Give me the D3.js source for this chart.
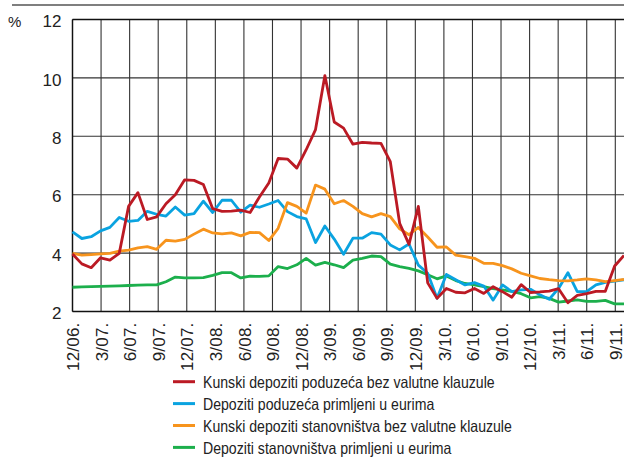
<!DOCTYPE html>
<html>
<head>
<meta charset="utf-8">
<script src="https://cdn.jsdelivr.net/npm/d3@7"></script>
<style>
  body { margin: 0; background: #fff; }
  svg { display: block; }
  text { font-family: "Liberation Sans Narrow", "Arial Narrow", "Liberation Sans", sans-serif; fill: #222; }
</style>
</head>
<body>
<div id="chart"></div>
<script>
// quarter labels on the x axis
var tickLabels = ["12/06.", "3/07.", "6/07.", "9/07.", "12/07.", "3/08.", "6/08.", "9/08.", "12/08.", "3/09.",
  "6/09.", "9/09.", "12/09.", "3/10.", "6/10.", "9/10.", "12/10.", "3/11.", "6/11.", "9/11."];
var yTicks = [2, 4, 6, 8, 10, 12];

var seriesNames = [
  "Kunski depoziti poduzeća bez valutne klauzule",
  "Depoziti poduzeća primljeni u eurima",
  "Kunski depoziti stanovništva bez valutne klauzule",
  "Depoziti stanovništva primljeni u eurima"
];
var seriesColors = ["#bb1a24", "#0aa3e0", "#f7941d", "#1caf4c"];

var kunaFirms = [3.97, 3.63, 3.5, 3.84, 3.76, 3.99, 5.6, 6.07, 5.15, 5.24,
  5.69, 6.0, 6.51, 6.49, 6.35, 5.52, 5.43, 5.44, 5.47, 5.39,
  5.92, 6.4, 7.24, 7.22, 6.91, 7.54, 8.23, 10.08, 8.49, 8.28,
  7.73, 7.79, 7.77, 7.76, 7.13, 5.02, 4.3, 5.6, 2.98, 2.45,
  2.79, 2.66, 2.64, 2.79, 2.62, 2.85, 2.68, 2.49, 2.92, 2.65,
  2.67, 2.7, 2.78, 2.3, 2.55, 2.61, 2.69, 2.69, 3.56, 3.92];
var euroFirms = [4.73, 4.5, 4.56, 4.76, 4.88, 5.22, 5.09, 5.12, 5.43, 5.33,
  5.27, 5.58, 5.3, 5.35, 5.78, 5.39, 5.81, 5.81, 5.4, 5.64,
  5.57, 5.68, 5.8, 5.42, 5.25, 5.17, 4.36, 4.93, 4.48, 3.96,
  4.51, 4.51, 4.7, 4.65, 4.28, 4.11, 4.31, 3.59, 3.31, 2.45,
  3.27, 3.09, 2.91, 2.99, 2.87, 2.39, 2.91, 2.68, 2.74, 2.76,
  2.57, 2.42, 2.79, 3.33, 2.68, 2.68, 2.91, 3.0, 3.04, 3.08];
var kunaHouseholds = [3.99, 3.93, 3.95, 3.97, 3.99, 4.07, 4.1, 4.18, 4.22, 4.13,
  4.44, 4.41, 4.47, 4.65, 4.82, 4.69, 4.66, 4.69, 4.59, 4.71,
  4.7, 4.43, 4.85, 5.73, 5.6, 5.37, 6.33, 6.19, 5.69, 5.8,
  5.6, 5.35, 5.24, 5.35, 5.25, 4.83, 4.63, 4.88, 4.55, 4.2,
  4.21, 3.93, 3.88, 3.82, 3.65, 3.65, 3.57, 3.46, 3.31, 3.22,
  3.13, 3.09, 3.06, 3.05, 3.08, 3.12, 3.08, 3.02, 3.06, 3.1];
var euroHouseholds = [2.83, 2.84, 2.85, 2.86, 2.87, 2.88, 2.89, 2.9, 2.91, 2.91,
  3.02, 3.18, 3.15, 3.15, 3.16, 3.24, 3.33, 3.33, 3.15, 3.21,
  3.2, 3.22, 3.54, 3.47, 3.6, 3.82, 3.59, 3.68, 3.6, 3.5,
  3.76, 3.82, 3.9, 3.88, 3.62, 3.54, 3.48, 3.39, 3.26, 3.12,
  3.22, 3.06, 2.96, 2.91, 2.85, 2.78, 2.74, 2.69, 2.61, 2.47,
  2.51, 2.45, 2.32, 2.36, 2.4, 2.35, 2.35, 2.38, 2.26, 2.26];

var allSeries = [kunaFirms, euroFirms, kunaHouseholds, euroHouseholds];

var width = 624, height = 457,
    plot = { left: 72.5, top: 19.5, bottom: 311.5, right: 624 };

var svg = d3.select("#chart").append("svg")
    .attr("width", width)
    .attr("height", height);

var x = d3.scaleLinear()
    .domain([0, kunaFirms.length - 1])
    .range([plot.left, plot.right]);

var xTick = d3.scalePoint()
    .domain(tickLabels)
    .range([plot.left, 615.3]);

var y = d3.scaleLinear()
    .domain([2, 12])
    .range([plot.bottom, plot.top]);

// rule at the very top
svg.append("line")
    .attr("x1", 12).attr("x2", width)
    .attr("y1", 5).attr("y2", 5)
    .attr("stroke", "#555")
    .attr("stroke-width", 1.3);

// grid
svg.append("g").selectAll("line.v")
    .data(tickLabels)
    .enter().append("line")
    .attr("x1", function (d) { return xTick(d) })
    .attr("x2", function (d) { return xTick(d) })
    .attr("y1", plot.top).attr("y2", plot.bottom)
    .attr("stroke", "#333")
    .attr("stroke-width", 1.1);

svg.append("g").selectAll("line.h")
    .data(yTicks)
    .enter().append("line")
    .attr("x1", plot.left).attr("x2", plot.right)
    .attr("y1", function (d) { return y(d) })
    .attr("y2", function (d) { return y(d) })
    .attr("stroke", function (d) { return (d == 2 || d == 12) ? "#111" : "#333" })
    .attr("stroke-width", function (d) { return (d == 2 || d == 12) ? 1.4 : 1.1 });

// axes (labels only)
var yAxis = svg.append("g")
    .attr("transform", "translate(" + plot.left + ",0)")
    .call(d3.axisLeft(y).tickValues(yTicks).tickSize(0).tickPadding(11));
yAxis.select(".domain").remove();
yAxis.selectAll("text")
    .style("font-size", "17px")
    .attr("fill", "#222")
    .attr("dy", "0.42em");

svg.append("text")
    .attr("x", 8).attr("y", 27)
    .style("font-size", "15px")
    .text("%");

var xAxis = svg.append("g")
    .attr("transform", "translate(0," + plot.bottom + ")")
    .call(d3.axisBottom(xTick).tickSize(0));
xAxis.select(".domain").remove();
xAxis.selectAll("text")
    .style("font-size", "17px")
    .style("letter-spacing", "0.2px")
    .attr("fill", "#222")
    .attr("transform", "rotate(-90)")
    .attr("x", -11)
    .attr("y", 0)
    .attr("dy", "0.36em")
    .style("text-anchor", "end");

// left edge of the plot
svg.append("line")
    .attr("x1", plot.left).attr("x2", plot.left)
    .attr("y1", plot.top).attr("y2", plot.bottom)
    .attr("stroke", "#111")
    .attr("stroke-width", 1.4);

var line = d3.line()
    .x(function (d, i) { return x(i) })
    .y(function (d) { return y(d) });

var drawOrder = [3, 1, 2, 0];
drawOrder.forEach(function (k) {
    svg.append("path")
        .datum(allSeries[k])
        .attr("fill", "none")
        .attr("stroke", seriesColors[k])
        .attr("stroke-width", 2.8)
        .attr("stroke-linejoin", "round")
        .attr("d", line);
});

// legend (narrow face imitated by squeezing the text horizontally)
var legend = svg.append("g").selectAll("g")
    .data(seriesNames)
    .enter().append("g")
    .attr("transform", function (d, i) { return "translate(173," + (381.7 + i * 21.9) + ")" });

legend.append("line")
    .attr("x1", 0).attr("x2", 22)
    .attr("stroke", function (d, i) { return seriesColors[i] })
    .attr("stroke-width", 3);

legend.append("text")
    .attr("transform", "translate(30,0) scale(0.855,1)")
    .attr("dy", "0.38em")
    .style("font-size", "16.5px")
    .text(function (d) { return d });
</script>
</body>
</html>
